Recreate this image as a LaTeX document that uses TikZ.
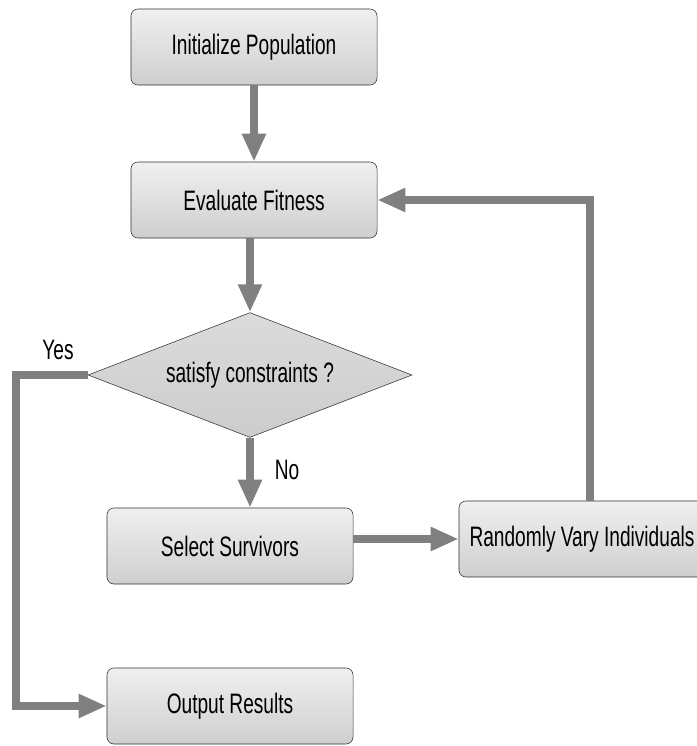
\documentclass[tikz,border=0pt]{standalone}
\usepackage{fontspec}
\setmainfont[FakeStretch=0.68]{Liberation Sans}
\usetikzlibrary{arrows.meta,shapes.geometric}

\begin{document}
\begin{tikzpicture}[
    x=0.025cm, y=-0.025cm,
    stepbox/.style={draw=black!80, rounded corners=5pt, thin,
        top color=gray!12, bottom color=gray!38,
        minimum width=6.15cm, minimum height=1.9cm,
        font=\fontsize{20}{22}\selectfont},
    decision/.style={diamond, draw=black!80, thin, aspect=2.6,
        top color=gray!28, bottom color=gray!40,
        minimum width=8.1cm, minimum height=3.12cm, inner sep=0pt,
        font=\fontsize{20}{22}\selectfont},
    flow/.style={draw=gray, line width=5.5pt,
        -{Triangle[length=0.7cm, width=0.56cm]}},
    answer/.style={font=\fontsize{20}{22}\selectfont}
]

\useasboundingbox (0,0) rectangle (697,746);

% ---------- Boxes ----------
\node[stepbox] (init) at (254,47) {Initialize Population};
\node[stepbox] (eval) at (254,200) {Evaluate Fitness};
\node[decision] (check) at (250,375) {satisfy constraints ?};
\node[stepbox] (select) at (230,546) {Select Survivors};
\node[stepbox] (vary) at (582,539) {Randomly Vary Individuals};
\node[stepbox] (output) at (230,706) {Output Results};

% ---------- Labels ----------
\node[answer] (yes) at (58,350) {Yes};
\node[answer] (no) at (287,470) {No};

% ---------- Arrows ----------
\draw[flow] (init) -- (eval);
\draw[flow] (eval.south -| check.north) -- (check.north);
\draw[flow] (check.south) -- (check.south |- select.north);
\draw[flow] (select.east |- vary.west) -- (vary.west);
\draw[flow] ([xshift=0.2cm]vary.north) |- (eval.east);
\draw[flow] (check.west) -- ++(-72,0) |- (output.west);

\end{tikzpicture}
\end{document}
